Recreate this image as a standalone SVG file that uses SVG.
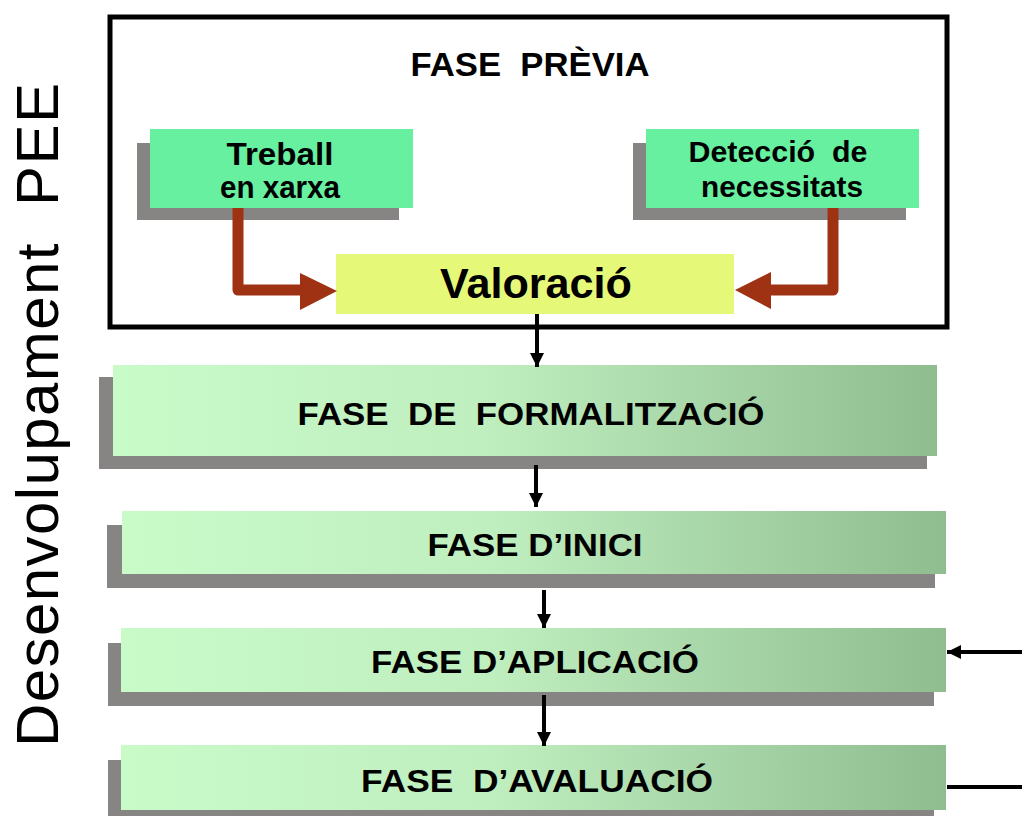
<svg xmlns="http://www.w3.org/2000/svg" width="1022" height="816" viewBox="0 0 1022 816">
<defs>
<linearGradient id="barGrad" x1="0" y1="0" x2="1" y2="0">
<stop offset="0" stop-color="#c9fbc9"/>
<stop offset="0.45" stop-color="#bfeebf"/>
<stop offset="1" stop-color="#8fbd90"/>
</linearGradient>
<marker id="ah" markerUnits="userSpaceOnUse" markerWidth="16" markerHeight="16" refX="14" refY="7" orient="auto">
<path d="M0,0 L14,7 L0,14 Z" fill="#000"/>
</marker>
<style>
.t{font-family:"Liberation Sans",Arial,sans-serif;font-weight:bold;fill:#000;text-anchor:middle}
.side{font-family:"Liberation Sans",Arial,sans-serif;font-size:60px;fill:#000}
.shadow{fill:#878484}
.green{fill:#66f0a0}
.bar{fill:url(#barGrad)}
.red{fill:none;stroke:#9e3212;stroke-width:11;stroke-linejoin:round}
.redhead{fill:#9e3212}
.blk{fill:none;stroke:#000;stroke-width:4}
</style>
</defs>
<rect width="1022" height="816" fill="#fff"/>

<g id="side-label">
<text class="side" transform="translate(58,747) rotate(-90)" textLength="664" lengthAdjust="spacing">Desenvolupament&#160; PEE</text>
</g>

<g id="fase-previa">
<rect x="110" y="17" width="837" height="310" fill="#fff" stroke="#000" stroke-width="5"/>
<text class="t" x="530" y="76" font-size="33" textLength="239" lengthAdjust="spacingAndGlyphs">FASE&#160; PRÈVIA</text>
</g>

<g id="treball">
<rect class="shadow" x="137" y="143" width="262" height="77"/>
<rect class="green" x="150" y="129" width="263" height="79"/>
<text class="t" x="280" y="165" font-size="31" textLength="107" lengthAdjust="spacingAndGlyphs">Treball</text>
<text class="t" x="280" y="198" font-size="31" textLength="120" lengthAdjust="spacingAndGlyphs">en xarxa</text>
</g>

<g id="deteccio">
<rect class="shadow" x="633" y="143" width="273" height="77"/>
<rect class="green" x="646" y="129" width="273" height="79"/>
<text class="t" x="778" y="162" font-size="30" textLength="179" lengthAdjust="spacingAndGlyphs">Detecció&#160; de</text>
<text class="t" x="782" y="197" font-size="30" textLength="162" lengthAdjust="spacingAndGlyphs">necessitats</text>
</g>

<g id="valoracio">
<rect x="336" y="254" width="398" height="60" fill="#e5f878"/>
<text class="t" x="536" y="298" font-size="43" textLength="192" lengthAdjust="spacingAndGlyphs">Valoració</text>
</g>

<g id="formalitzacio">
<rect class="shadow" x="99" y="377" width="828" height="92"/>
<rect class="bar" x="113" y="365" width="824" height="91"/>
<text class="t" x="531" y="425" font-size="32" textLength="467" lengthAdjust="spacingAndGlyphs">FASE&#160; DE&#160; FORMALITZACIÓ</text>
</g>

<g id="inici">
<rect class="shadow" x="107" y="525" width="828" height="63"/>
<rect class="bar" x="122" y="511" width="824" height="63"/>
<text class="t" x="535" y="556" font-size="31" textLength="215" lengthAdjust="spacingAndGlyphs">FASE D’INICI</text>
</g>

<g id="aplicacio">
<rect class="shadow" x="108" y="643" width="826" height="63"/>
<rect class="bar" x="121" y="628" width="825" height="64"/>
<text class="t" x="535" y="673" font-size="31" textLength="328" lengthAdjust="spacingAndGlyphs">FASE D’APLICACIÓ</text>
</g>

<g id="avaluacio">
<rect class="shadow" x="108" y="760" width="826" height="62"/>
<rect class="bar" x="121" y="745" width="825" height="65"/>
<text class="t" x="537" y="792" font-size="31" textLength="352" lengthAdjust="spacingAndGlyphs">FASE&#160; D’AVALUACIÓ</text>
</g>

<g id="connectors">
<path class="red" d="M238,208 V290 H302"/>
<polygon class="redhead" points="300,273 337,291 300,310"/>
<path class="red" d="M833,208 V290 H769"/>
<polygon class="redhead" points="771,272 735,290 771,309"/>
<line class="blk" x1="537" y1="314" x2="537" y2="367" marker-end="url(#ah)"/>
<line class="blk" x1="536" y1="465" x2="536" y2="507" marker-end="url(#ah)"/>
<line class="blk" x1="544" y1="590" x2="544" y2="628" marker-end="url(#ah)"/>
<line class="blk" x1="544" y1="695" x2="544" y2="746" marker-end="url(#ah)"/>
<path class="blk" d="M947,787 H1026 V652 H947" marker-end="url(#ah)"/>
</g>
</svg>
